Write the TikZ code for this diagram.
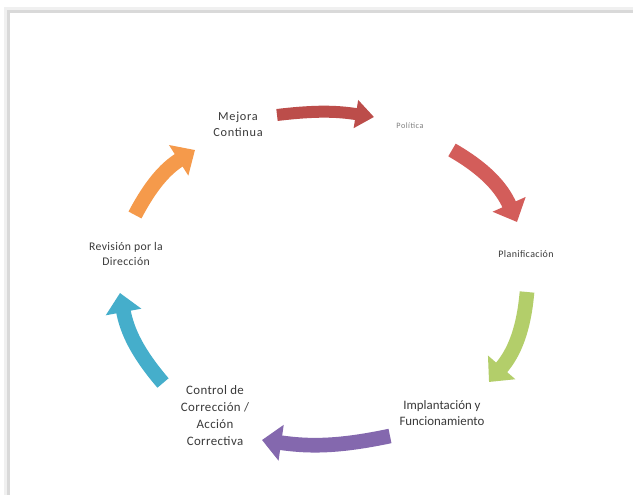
\documentclass[tikz,border=0pt]{standalone}
\usepackage{fontspec}
\setmainfont{Carlito}
\usetikzlibrary{arrows.meta}
\definecolor{txtgray}{HTML}{3A3A3A}
\definecolor{redA}{HTML}{BC4D4A}
\definecolor{redB}{HTML}{D35D5A}
\definecolor{greenC}{HTML}{B3CE6A}
\definecolor{purpleD}{HTML}{8468AE}
\definecolor{blueE}{HTML}{45AECB}
\definecolor{orangeF}{HTML}{F59A4B}

\begin{document}
\begin{tikzpicture}[x=0.03cm,y=0.03cm,
  lbl/.style={align=center,text=txtgray,inner sep=1pt},
  cyc/.style={line width=0.44cm,-{Triangle[length=0.58cm,width=1.05cm]}},
  cyctop/.style={line width=0.36cm,-{Triangle[length=0.55cm,width=0.82cm]}}]
\useasboundingbox (0,0) rectangle (633,495);
% --- frame with shadow ---
\fill[gray!12] (4,0) rectangle (633,488);
\fill[gray!30] (7,0) rectangle (633,485);
\fill[white] (10,0) rectangle (633,482);
% --- stage labels ---
\node[lbl,font=\fontsize{10.5}{13.5}\selectfont\addfontfeature{LetterSpace=6}] (mejora) at (238,371) {Mejora\\Continua};
\node[lbl,text=gray,font=\fontsize{7}{8}\selectfont\addfontfeature{LetterSpace=6}] (politica) at (410,369) {Política};
\node[lbl,font=\fontsize{8.5}{10}\selectfont\addfontfeature{LetterSpace=4}] (planif) at (526,241) {Planificación};
\node[lbl,font=\fontsize{11}{14}\selectfont] (implant) at (442,82) {Implantación y\\Funcionamiento};
\node[lbl,font=\fontsize{11}{14.5}\selectfont\addfontfeature{LetterSpace=3}] (control) at (215,79) {Control de\\Corrección /\\Acción\\Correctiva};
\node[lbl,font=\fontsize{10}{13.5}\selectfont\addfontfeature{LetterSpace=3}] (revision) at (126,241) {Revisión por la\\Dirección};
% --- arrow ends ---
\coordinate (mejoraS) at (277,380);   \coordinate (mejoraE) at (374,378);
\coordinate (politicaS) at (452,345); \coordinate (politicaE) at (517,273);
\coordinate (planifS) at (527,203);   \coordinate (planifE) at (489,113);
\coordinate (implantS) at (390,59);   \coordinate (implantE) at (262,55);
\coordinate (controlS) at (163,112);  \coordinate (controlE) at (120,202);
\coordinate (revisionS) at (135,280); \coordinate (revisionE) at (195,345);
% --- cycle arrows ---
\draw[cyctop,redA] (mejoraS) to[bend left=8] (mejoraE);
\draw[cyc,redB] (politicaS) to[bend left=18] (politicaE);
\draw[cyc,greenC] (planifS) to[bend left=18] (planifE);
\draw[cyc,purpleD] (implantS) to[bend left=10] (implantE);
\draw[cyc,blueE] (controlS) to[bend left=15] (controlE);
\draw[cyc,orangeF] (revisionS) to[bend left=15] (revisionE);
\end{tikzpicture}
\end{document}
